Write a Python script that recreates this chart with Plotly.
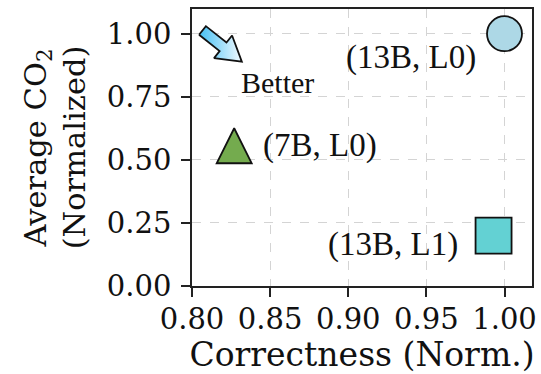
import numpy as np
import plotly.graph_objects as go

# Model configurations: normalized correctness vs. normalized average CO2
configs = ["(13B, L0)", "(7B, L0)", "(13B, L1)"]
correctness = [1.0, 0.827, 0.993]
avg_co2 = [1.0, 0.556, 0.20]

symbols = ["circle", "arrow-down", "square"]
fills = ["#add8e6", "#74ab4e", "#63d1d3"]

x_ticks = [0.80, 0.85, 0.90, 0.95, 1.00]
y_ticks = [0.00, 0.25, 0.50, 0.75, 1.00]

W, H = 541, 374
MARGIN = dict(l=192, r=9, t=9, b=88)
XR = [0.80, 1.0176]
YR = [0.0, 1.098]

SERIF = "DejaVu Serif"
TEXT_SERIF = "Liberation Serif"
INK = "#111111"

# label offsets in px relative to each point: (dx, dy, anchor)
label_offsets = [(-27, -24, "right"), (27, 0, "left"), (-34, -9, "right")]

# "Better" arrow, from upper-left toward lower-right (data coords)
arrow_tail = (0.8067, 1.013)
arrow_tip = (0.8319, 0.889)
better_pos = (0.8300, 0.808)

# pixel scale of the plotting area
plot_w = W - MARGIN["l"] - MARGIN["r"]
plot_h = H - MARGIN["t"] - MARGIN["b"]
kx = plot_w / (XR[1] - XR[0])
ky = plot_h / (YR[1] - YR[0])


def to_px(p):
    return np.array([(p[0] - XR[0]) * kx, (YR[1] - p[1]) * ky])


def to_data(q):
    return XR[0] + q[0] / kx, YR[1] - q[1] / ky


tail = to_px(arrow_tail)
tip = to_px(arrow_tip)
u = (tip - tail) / np.linalg.norm(tip - tail)
n = np.array([-u[1], u[0]])
shaft_half, head_half, head_len = 5.5, 14.5, 24.0
base = tip - u * head_len
outline = [tail + n * shaft_half, base + n * shaft_half, base + n * head_half, tip,
           base - n * head_half, base - n * shaft_half, tail - n * shaft_half,
           tail + n * shaft_half]
ax_x, ax_y = zip(*[to_data(q) for q in outline])

fig = go.Figure()

fig.add_trace(go.Scatter(
    x=list(ax_x), y=list(ax_y), mode="lines", fill="toself",
    fillgradient=dict(type="horizontal",
                      colorscale=[[0, "#45c0f4"], [1, "#f2faff"]]),
    line=dict(color=INK, width=1.8),
    hoverinfo="skip", showlegend=False,
))

sizes = [35, 35, 36]
fig.add_trace(go.Scatter(
    x=correctness, y=avg_co2, mode="markers",
    marker=dict(
        symbol=symbols, size=sizes, color=fills, opacity=1,
        angle=[0, 180, 0],
        standoff=[0, sizes[1] / 2, 0],
        line=dict(color=INK, width=1.8),
    ),
    text=configs, hoverinfo="text", showlegend=False,
))

for name, xv, yv, (dx, dy, anchor) in zip(configs, correctness, avg_co2, label_offsets):
    fig.add_annotation(
        x=xv, y=yv, text=name, showarrow=False,
        xanchor=anchor, yanchor="middle", xshift=dx, yshift=dy,
        font=dict(family=TEXT_SERIF, size=33, color=INK),
    )

fig.add_annotation(
    x=better_pos[0], y=better_pos[1], text="Better", showarrow=False,
    xanchor="left", yanchor="middle",
    font=dict(family=TEXT_SERIF, size=30, color=INK),
)

axis_common = dict(
    showline=True, linecolor="#222222", linewidth=1.5, mirror=True,
    ticks="outside", ticklen=9, tickwidth=1.5, tickcolor="#222222",
    showgrid=True, gridcolor="#d4d4d4", gridwidth=1, griddash="dash",
    zeroline=False,
    tickfont=dict(family=SERIF, size=29, color=INK),
)

fig.update_xaxes(
    range=XR, tickvals=x_ticks, ticktext=[f"{v:.2f}" for v in x_ticks],
    ticklabelstandoff=-3,
    title=dict(text="Correctness (Norm.)", standoff=14,
               font=dict(family=SERIF, size=33, color=INK)),
    **axis_common,
)
fig.update_yaxes(
    range=YR, tickvals=y_ticks, ticktext=[f"{v:.2f}" for v in y_ticks],
    ticklabelstandoff=4,
    title=dict(text="Average CO<sub>2</sub><br>(Normalized)", standoff=12,
               font=dict(family=SERIF, size=30.5, color=INK)),
    **axis_common,
)

fig.update_layout(
    width=W, height=H,
    margin=dict(**MARGIN, autoexpand=False),
    paper_bgcolor="white", plot_bgcolor="white",
)

fig.write_html("out.html")
